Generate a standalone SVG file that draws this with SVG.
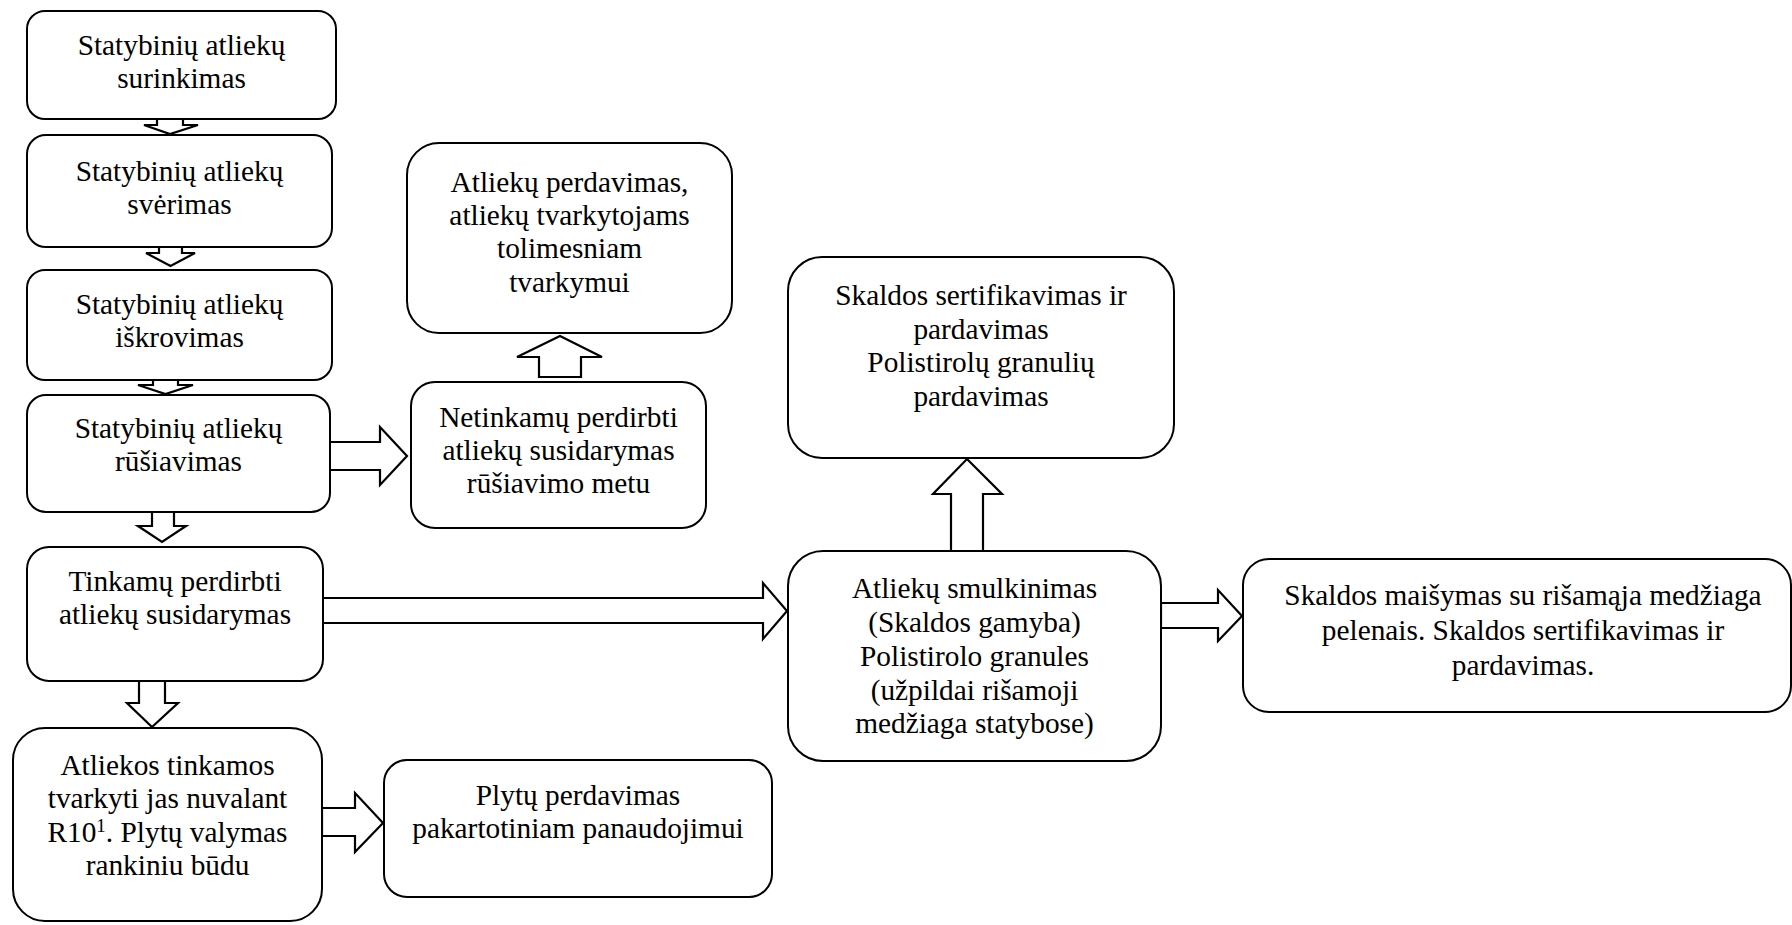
<svg xmlns="http://www.w3.org/2000/svg" width="1792" height="925" viewBox="0 0 1792 925">
<style>
.box{fill:#fff;stroke:#000;stroke-width:2}
.arr{fill:#fff;stroke:#000;stroke-width:2.2;stroke-linejoin:miter}
text{font-family:'Liberation Serif','Times New Roman',serif;font-size:29.33px;fill:#000;text-anchor:middle}
</style>
<rect width="1792" height="925" fill="#fff"/>
<g id="connectors">
<polygon class="arr" points="157,117 183,117 183,125 198,125 170,134 144,125 157,125"/>
<polygon class="arr" points="159,243 182,243 182,253 195,253 170.5,266 146,253 159,253"/>
<polygon class="arr" points="153,377 178,377 178,385 193,385 165.5,394 138,385 153,385"/>
<polygon class="arr" points="152,509 174,509 174,526 186,526 162,542 138,526 152,526"/>
<polygon class="arr" points="139,676 165,676 165,703 178,703 152,727 127,703 139,703"/>
<polygon class="arr" points="329,442 380,442 380,427 407,456 380,485 380,470 329,470"/>
<polygon class="arr" points="539,377 539,357 517,357 560,336 602,357 581,357 581,377"/>
<polygon class="arr" points="321,598 763,598 763,583 787,611 763,639 763,623 321,623"/>
<polygon class="arr" points="322,808 355,808 355,793 383,823 355,852 355,836 322,836"/>
<polygon class="arr" points="951,552 951,494 933,494 967,459 1002,494 983,494 983,552"/>
<polygon class="arr" points="1161,603 1218,603 1218,590 1242,616 1218,641 1218,628 1161,628"/>
</g>
<g id="n1"><rect class="box" x="27" y="11" width="309" height="108" rx="18"/>
<text><tspan x="181.5" y="55">Statybinių atliekų</tspan><tspan x="181.5" y="88">surinkimas</tspan></text></g>
<g id="n2"><rect class="box" x="27" y="135" width="305" height="112" rx="19"/>
<text><tspan x="179.5" y="181">Statybinių atliekų</tspan><tspan x="179.5" y="214">svėrimas</tspan></text></g>
<g id="n3"><rect class="box" x="27" y="270" width="305" height="110" rx="18"/>
<text><tspan x="179.5" y="314">Statybinių atliekų</tspan><tspan x="179.5" y="347">iškrovimas</tspan></text></g>
<g id="n4"><rect class="box" x="27" y="395" width="303" height="117" rx="19"/>
<text><tspan x="178.5" y="438">Statybinių atliekų</tspan><tspan x="178.5" y="471">rūšiavimas</tspan></text></g>
<g id="n5"><rect class="box" x="27" y="547" width="296" height="134" rx="22"/>
<text><tspan x="175" y="591">Tinkamų perdirbti</tspan><tspan x="175" y="624">atliekų susidarymas</tspan></text></g>
<g id="n6"><rect class="box" x="13" y="728" width="309" height="193" rx="32"/>
<text><tspan x="167.5" y="775">Atliekos tinkamos</tspan><tspan x="167.5" y="808">tvarkyti jas nuvalant</tspan><tspan x="167.5" y="842">R10<tspan font-size="19" dy="-10">1</tspan><tspan dy="10">. Plytų valymas</tspan></tspan><tspan x="167.5" y="875">rankiniu būdu</tspan></text></g>
<g id="n7"><rect class="box" x="384" y="760" width="388" height="137" rx="23"/>
<text><tspan x="578" y="805">Plytų perdavimas</tspan><tspan x="578" y="838">pakartotiniam panaudojimui</tspan></text></g>
<g id="n8"><rect class="box" x="411" y="382" width="295" height="146" rx="24"/>
<text><tspan x="558.5" y="427">Netinkamų perdirbti</tspan><tspan x="558.5" y="460">atliekų susidarymas</tspan><tspan x="558.5" y="493">rūšiavimo metu</tspan></text></g>
<g id="n9"><rect class="box" x="407" y="143" width="325" height="190" rx="32"/>
<text><tspan x="569.5" y="192">Atliekų perdavimas,</tspan><tspan x="569.5" y="225">atliekų tvarkytojams</tspan><tspan x="569.5" y="258">tolimesniam</tspan><tspan x="569.5" y="292">tvarkymui</tspan></text></g>
<g id="n10"><rect class="box" x="788" y="257" width="386" height="201" rx="34"/>
<text><tspan x="981" y="305">Skaldos sertifikavimas ir</tspan><tspan x="981" y="339">pardavimas</tspan><tspan x="981" y="372">Polistirolų granulių</tspan><tspan x="981" y="406">pardavimas</tspan></text></g>
<g id="n11"><rect class="box" x="788" y="551" width="373" height="210" rx="35"/>
<text><tspan x="974.5" y="598">Atliekų smulkinimas</tspan><tspan x="974.5" y="632">(Skaldos gamyba)</tspan><tspan x="974.5" y="666">Polistirolo granules</tspan><tspan x="974.5" y="700">(užpildai rišamoji</tspan><tspan x="974.5" y="733">medžiaga statybose)</tspan></text></g>
<g id="n12"><rect class="box" x="1243" y="559" width="548" height="153" rx="26"/>
<text><tspan x="1523" y="605">Skaldos maišymas su rišamąja medžiaga</tspan><tspan x="1523" y="640">pelenais. Skaldos sertifikavimas ir</tspan><tspan x="1523" y="675">pardavimas.</tspan></text></g>
</svg>
